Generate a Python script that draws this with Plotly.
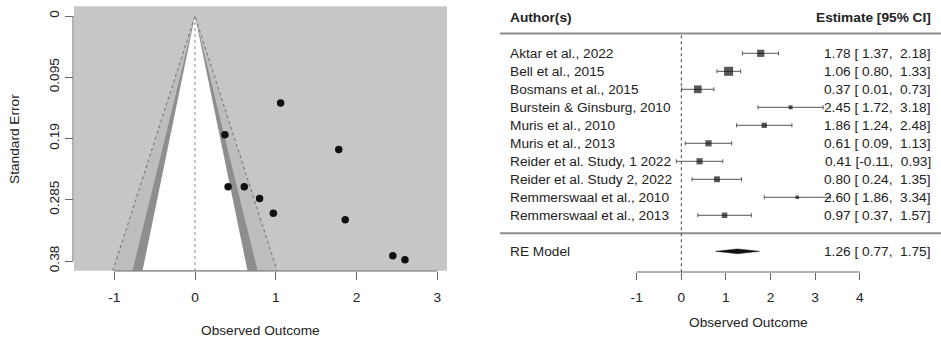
import plotly.graph_objects as go

# ---------------- data ----------------
authors = [
    "Aktar et al., 2022",
    "Bell et al., 2015",
    "Bosmans et al., 2015",
    "Burstein & Ginsburg, 2010",
    "Muris et al., 2010",
    "Muris et al., 2013",
    "Reider et al. Study, 1 2022",
    "Reider et al. Study 2, 2022",
    "Remmerswaal et al., 2010",
    "Remmerswaal et al., 2013",
]
estimates = [1.78, 1.06, 0.37, 2.45, 1.86, 0.61, 0.41, 0.80, 2.60, 0.97]
ci_lower = [1.37, 0.80, 0.01, 1.72, 1.24, 0.09, -0.11, 0.24, 1.86, 0.37]
ci_upper = [2.18, 1.33, 0.73, 3.18, 2.48, 1.13, 0.93, 1.35, 3.34, 1.57]
std_errors = [0.207, 0.135, 0.184, 0.372, 0.316, 0.265, 0.265, 0.283, 0.378, 0.306]

re_label = "RE Model"
re_est = 1.26
re_lower = 0.77
re_upper = 1.75

funnel_xticks = [-1, 0, 1, 2, 3]
funnel_xticklabels = ["-1", "0", "1", "2", "3"]
funnel_yticks = [0, 0.095, 0.19, 0.285, 0.38]
funnel_yticklabels = ["0", "0.095", "0.19", "0.285", "0.38"]
forest_xticks = [-1, 0, 1, 2, 3, 4]
forest_xticklabels = ["-1", "0", "1", "2", "3", "4"]
contour_z = [2.576, 1.96, 1.645]  # 99%, 95%, 90%

# ---------------- layout constants ----------------
W, H = 941, 337
FONT = "Liberation Sans, Arial, Helvetica, sans-serif"
FS = 13.7
TXT = "#222222"
AX = "#666666"


def px(v):
    return v / W


def py(v):
    return 1 - v / H


fig = go.Figure()

# ---------------- funnel plot (left) ----------------
y_bottom = 0.3952
y_top = -0.0152
contour_colors = ["#bcbdbf", "#8e8e8f", "#ffffff"]
for z, col in zip(contour_z, contour_colors):
    fig.add_trace(go.Scatter(
        x=[-z * y_bottom, 0, z * y_bottom, -z * y_bottom],
        y=[y_bottom, 0, y_bottom, y_bottom],
        fill="toself", fillcolor=col, mode="lines",
        line=dict(width=0, color=col), hoverinfo="skip", showlegend=False,
        xaxis="x", yaxis="y"))

z99 = contour_z[0]
fig.add_trace(go.Scatter(
    x=[-z99 * y_bottom, 0, z99 * y_bottom], y=[y_bottom, 0, y_bottom],
    mode="lines", line=dict(color="#6f6f6f", width=1, dash="dot"),
    hoverinfo="skip", showlegend=False, xaxis="x", yaxis="y"))
fig.add_trace(go.Scatter(
    x=[0, 0], y=[0, y_bottom], mode="lines",
    line=dict(color="#8a8a8a", width=1, dash="dot"),
    hoverinfo="skip", showlegend=False, xaxis="x", yaxis="y"))

fig.add_trace(go.Scatter(
    x=estimates, y=std_errors, mode="markers",
    marker=dict(color="#111111", size=7.5),
    showlegend=False, xaxis="x", yaxis="y"))

# ---------------- forest plot (right) ----------------
k = len(authors)
rows = list(range(k, 0, -1))
inv_se = [1 / s for s in std_errors]
wmin, wmax = min(inv_se), max(inv_se)
sizes = [3.5 + 5.5 * ((w - wmin) / (wmax - wmin)) ** 0.5 for w in inv_se]

fig.add_trace(go.Scatter(
    x=estimates, y=rows, mode="markers",
    marker=dict(symbol="square", size=sizes, color="#111111", line=dict(width=0)),
    error_x=dict(type="data", symmetric=False,
                 array=[u - e for u, e in zip(ci_upper, estimates)],
                 arrayminus=[e - l for e, l in zip(estimates, ci_lower)],
                 color="#555555", thickness=1, width=2),
    showlegend=False, xaxis="x2", yaxis="y2"))

re_row = -1
h = 0.13
fig.add_trace(go.Scatter(
    x=[re_lower, re_est, re_upper, re_est, re_lower],
    y=[re_row, re_row + h, re_row, re_row - h, re_row],
    fill="toself", fillcolor="#111111", mode="lines",
    line=dict(color="#111111", width=0.5), showlegend=False,
    xaxis="x2", yaxis="y2"))

shapes = [
    # funnel background
    dict(type="rect", xref="x domain", yref="y domain", x0=0, x1=1, y0=0, y1=1,
         fillcolor="#c5c6c8", line=dict(width=0), layer="below"),
    # funnel axis lines
    dict(type="line", xref="x", yref="paper", x0=funnel_xticks[0], x1=funnel_xticks[-1],
         y0=py(271), y1=py(271), line=dict(color=AX, width=1)),
    dict(type="line", xref="paper", yref="y", x0=px(73), x1=px(73),
         y0=funnel_yticks[0], y1=funnel_yticks[-1], line=dict(color=AX, width=1)),
    # forest header and separator lines
    dict(type="line", xref="paper", yref="y2", x0=px(500), x1=1, y0=k + 1.1, y1=k + 1.1,
         line=dict(color="#8c8c8c", width=2)),
    dict(type="line", xref="paper", yref="y2", x0=px(500), x1=1, y0=0, y1=0,
         line=dict(color="#8c8c8c", width=2)),
    # reference dotted line
    dict(type="line", xref="x2", yref="y2", x0=0, x1=0, y0=k + 1, y1=-2.15,
         line=dict(color="#444444", width=1, dash="dot")),
    # forest axis line
    dict(type="line", xref="x2", yref="paper", x0=forest_xticks[0], x1=forest_xticks[-1],
         y0=py(272), y1=py(272), line=dict(color=AX, width=1)),
]

annotations = []
for a, r in zip(authors, rows):
    annotations.append(dict(text=a, xref="paper", yref="y2", x=px(508), y=r,
                            xanchor="left", yanchor="middle", showarrow=False))
for e, l, u, r in zip(estimates, ci_lower, ci_upper, rows):
    annotations.append(dict(text=f"{e:.2f} [{l:5.2f}, {u:5.2f}]", xref="paper", yref="y2",
                            x=px(933), y=r, xanchor="right", yanchor="middle", showarrow=False))
annotations.append(dict(text=re_label, xref="paper", yref="y2", x=px(508), y=re_row,
                        xanchor="left", yanchor="middle", showarrow=False))
annotations.append(dict(text=f"{re_est:.2f} [{re_lower:5.2f}, {re_upper:5.2f}]", xref="paper",
                        yref="y2", x=px(933), y=re_row, xanchor="right", yanchor="middle",
                        showarrow=False))
annotations.append(dict(text="<b>Author(s)</b>", xref="paper", yref="y2", x=px(508), y=k + 2,
                        xanchor="left", yanchor="middle", showarrow=False))
annotations.append(dict(text="<b>Estimate [95% CI]</b>", xref="paper", yref="y2", x=px(933),
                        y=k + 2, xanchor="right", yanchor="middle", showarrow=False))
annotations.append(dict(text="Standard Error", xref="paper", yref="paper", x=px(15), y=py(139),
                        textangle=-90, xanchor="center", yanchor="middle", showarrow=False))
annotations.append(dict(text="Observed Outcome", xref="paper", yref="paper", x=px(260),
                        y=py(330), xanchor="center", yanchor="middle", showarrow=False))
annotations.append(dict(text="Observed Outcome", xref="paper", yref="paper", x=px(748),
                        y=py(322), xanchor="center", yanchor="middle", showarrow=False))

x0_px = 195.0
xs = 80.75
fy_top, fy_bot = 6.2, 270.8
fx_scale = 44.6
fx0 = 681.3
row_py1 = 215.3
row_h = 18.0

fig.update_layout(
    width=W, height=H,
    margin=dict(l=0, r=0, t=0, b=0),
    paper_bgcolor="white", plot_bgcolor="white",
    font=dict(family=FONT, size=FS, color=TXT),
    showlegend=False,
    xaxis=dict(domain=[px(74), px(447)], range=[(74 - x0_px) / xs, (447 - x0_px) / xs],
               anchor="free", position=py(271),
               tickvals=funnel_xticks, ticktext=funnel_xticklabels,
               ticks="outside", ticklen=8, tickcolor=AX,
               ticklabelstandoff=6,
               showline=False, showgrid=False, zeroline=False,
               tickfont=dict(size=FS, color=TXT, family=FONT)),
    yaxis=dict(domain=[py(fy_bot), py(fy_top)], range=[y_bottom, y_top],
               anchor="free", position=px(73),
               tickvals=funnel_yticks, ticktext=funnel_yticklabels, tickangle=-90,
               ticks="outside", ticklen=8, tickcolor=AX, ticklabelstandoff=1,
               showline=False, showgrid=False, zeroline=False,
               tickfont=dict(size=FS, color=TXT, family=FONT)),
    xaxis2=dict(domain=[px(480), 1], range=[(480 - fx0) / fx_scale, (941 - fx0) / fx_scale],
                anchor="free", position=py(272),
                tickvals=forest_xticks, ticktext=forest_xticklabels,
                ticks="outside", ticklen=7, tickcolor=AX,
                ticklabelstandoff=6,
                showline=False, showgrid=False, zeroline=False,
                tickfont=dict(size=FS, color=TXT, family=FONT)),
    yaxis2=dict(domain=[0, 1], range=[1 - (337 - row_py1) / row_h, 1 + row_py1 / row_h],
                anchor="x2", visible=False),
    shapes=shapes,
    annotations=annotations,
)

fig.write_html("out.html", config={"displayModeBar": False},
               post_script="document.body.style.margin='0';document.body.style.padding='0';"
                           "document.documentElement.style.overflow='hidden';")
